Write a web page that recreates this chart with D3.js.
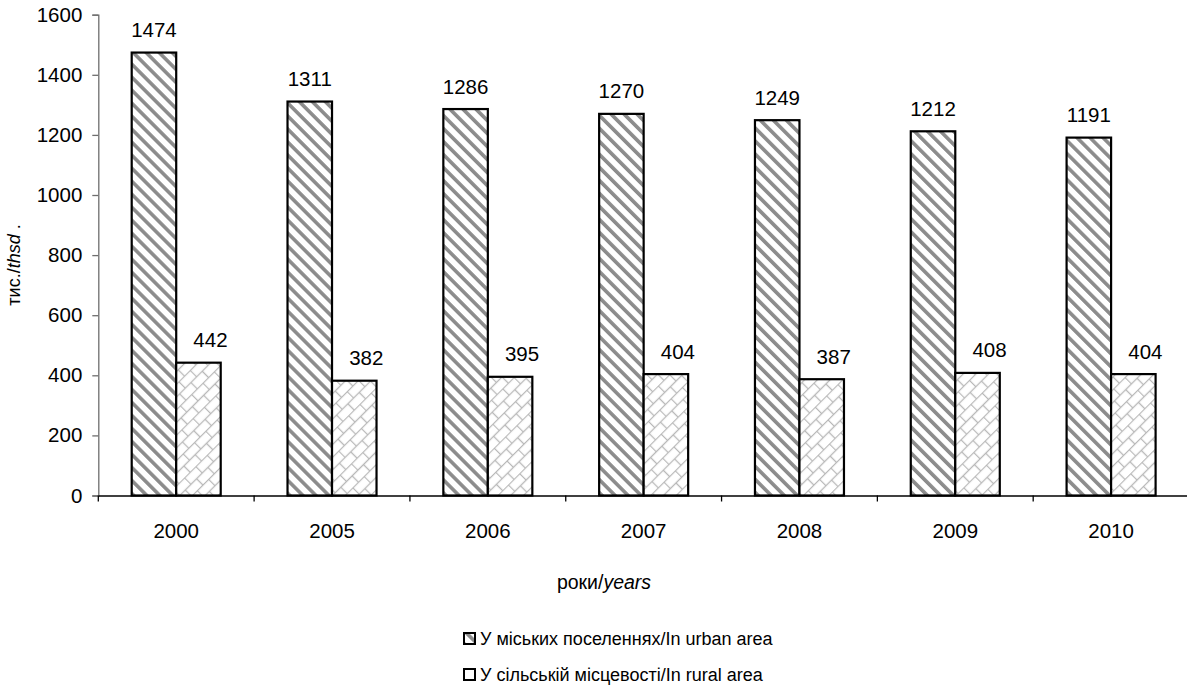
<!DOCTYPE html>
<html>
<head>
<meta charset="utf-8">
<script src="https://cdn.jsdelivr.net/npm/d3@7"></script>
<style>
  body { margin: 0; background: #fff; }
  svg { display: block; font-family: "Liberation Sans", Arial, sans-serif; }
</style>
</head>
<body>
<svg id="chart" width="1187" height="689"></svg>
<script>
const years = ["2000", "2005", "2006", "2007", "2008", "2009", "2010"];
const urban = [1474, 1311, 1286, 1270, 1249, 1212, 1191];
const rural = [442, 382, 395, 404, 387, 408, 404];
const seriesNames = ["У міських поселеннях/In urban area", "У сільській місцевості/In rural area"];
const yTicks = [0, 200, 400, 600, 800, 1000, 1200, 1400, 1600];

const svg = d3.select("#chart");
const defs = svg.append("defs");
const FS = 20.5;

// Urban: wide downward diagonal stripes
const p1 = defs.append("pattern").attr("id", "pUrban").attr("patternUnits", "userSpaceOnUse")
  .attr("width", 9.2).attr("height", 9.2).attr("patternTransform", "rotate(-45)");
p1.append("rect").attr("width", 9.2).attr("height", 9.2).attr("fill", "#fff");
p1.append("rect").attr("x", 0).attr("y", 0).attr("width", 3.6).attr("height", 9.2).attr("fill", "#8c8c8c");

// Rural: diagonal brick
const bw = 16, bh = 18;
const p2 = defs.append("pattern").attr("id", "pRural").attr("patternUnits", "userSpaceOnUse")
  .attr("width", bw).attr("height", bh).attr("patternTransform", "rotate(-45)");
p2.append("rect").attr("width", bw).attr("height", bh).attr("fill", "#fff");
const bs = "#b8b8b8", bsw = 1.3;
p2.append("line").attr("x1", 0).attr("y1", 0.5).attr("x2", bw).attr("y2", 0.5).attr("stroke", bs).attr("stroke-width", bsw);
p2.append("line").attr("x1", 0).attr("y1", bh / 2 + 0.5).attr("x2", bw).attr("y2", bh / 2 + 0.5).attr("stroke", bs).attr("stroke-width", bsw);
p2.append("line").attr("x1", 0.5).attr("y1", 0).attr("x2", 0.5).attr("y2", bh / 2 + 0.5).attr("stroke", bs).attr("stroke-width", bsw);
p2.append("line").attr("x1", bw / 2 + 0.5).attr("y1", bh / 2 + 0.5).attr("x2", bw / 2 + 0.5).attr("y2", bh).attr("stroke", bs).attr("stroke-width", bsw);

const x0 = 98.3, x1 = 1189, yBot = 495.5, yTop = 14.7;
const x = d3.scaleBand().domain(years).range([x0, x1]).paddingInner(0).paddingOuter(0);
const xs = d3.scaleBand().domain([0, 1]).range([0, x.bandwidth() * 89 / 155.8]).padding(0);
const groupOffset = (x.bandwidth() - xs.range()[1]) / 2;
const y = d3.scaleLinear().domain([0, 1600]).range([yBot, yTop]);

const series = [
  { vals: urban, fill: "url(#pUrban)", labelShift: 0 },
  { vals: rural, fill: "url(#pRural)", labelShift: 12 }
];

// bars
series.forEach((s, si) => {
  svg.append("g").selectAll("rect").data(s.vals).join("rect")
    .attr("x", (d, i) => x(years[i]) + groupOffset + xs(si))
    .attr("y", d => y(d))
    .attr("width", xs.bandwidth())
    .attr("height", d => y(0) - y(d))
    .attr("fill", s.fill)
    .attr("stroke", "#000").attr("stroke-width", 2.2);
  svg.append("g").selectAll("text").data(s.vals).join("text")
    .attr("x", (d, i) => x(years[i]) + groupOffset + xs(si) + xs.bandwidth() / 2 + s.labelShift)
    .attr("y", d => y(d) - 15.5)
    .attr("text-anchor", "middle")
    .attr("font-size", FS).attr("fill", "#000")
    .text(d => d);
});

// y axis
const yAxis = d3.axisLeft(y).tickValues(yTicks).tickSize(6).tickPadding(10).tickFormat(d3.format("d"));
const gy = svg.append("g").attr("transform", `translate(${x0},0)`).call(yAxis);
gy.select(".domain").attr("stroke", "#6e6e6e").attr("stroke-width", 1.3);
gy.selectAll(".tick line").attr("stroke", "#6e6e6e").attr("stroke-width", 1.3);
gy.selectAll(".tick text").attr("font-size", FS).attr("fill", "#000").attr("font-family", "Liberation Sans, Arial, sans-serif");

// x axis
const xAxis = d3.axisBottom(x).tickSize(0).tickPadding(0);
const gx = svg.append("g").attr("transform", `translate(0,${yBot})`).call(xAxis);
gx.select(".domain").attr("stroke", "#000").attr("stroke-width", 1.3);
gx.selectAll(".tick text").attr("font-size", FS).attr("fill", "#000").attr("dy", 0).attr("y", 42)
  .attr("font-family", "Liberation Sans, Arial, sans-serif");
// boundary ticks
svg.append("g").selectAll("line").data(years).join("line")
  .attr("x1", d => x(d)).attr("x2", d => x(d))
  .attr("y1", yBot).attr("y2", yBot + 6)
  .attr("stroke", "#000").attr("stroke-width", 1.3);

// axis titles
const yt = svg.append("text").attr("transform", "translate(20,265) rotate(-90)")
  .attr("text-anchor", "middle").attr("font-size", 18).attr("fill", "#000");
yt.append("tspan").text("тис./");
yt.append("tspan").attr("font-style", "italic").text("thsd");
yt.append("tspan").text(" .");

const xt = svg.append("text").attr("x", 604).attr("y", 589)
  .attr("text-anchor", "middle").attr("font-size", 19.5).attr("fill", "#000");
xt.append("tspan").text("роки/");
xt.append("tspan").attr("font-style", "italic").text("years");

// legend
const legY = [633, 669];
const leg = svg.append("g");
seriesNames.forEach((n, i) => {
  leg.append("rect").attr("x", 464).attr("y", legY[i]).attr("width", 11).attr("height", 11)
    .attr("fill", i === 0 ? "url(#pUrban)" : "#fff").attr("stroke", "#000").attr("stroke-width", 2);
  leg.append("text").attr("x", 480).attr("y", legY[i] + 12).attr("font-size", 18).attr("fill", "#000").text(n);
});
</script>
</body>
</html>
